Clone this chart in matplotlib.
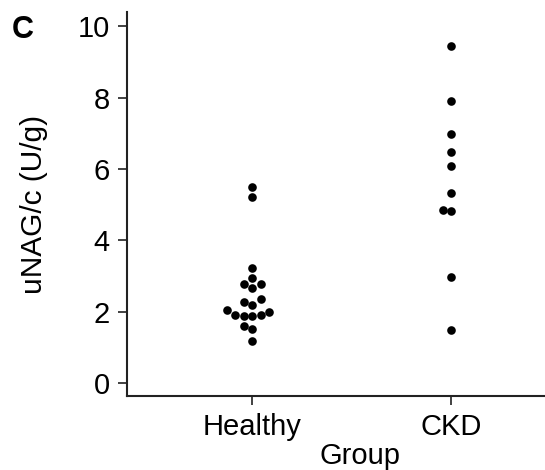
import numpy as np
import matplotlib.pyplot as plt

plt.rcParams['font.family'] = ['Liberation Sans', 'DejaVu Sans']

# values
groups = ['Healthy', 'CKD']
healthy = [5.51, 5.22, 3.24, 2.95, 2.79, 2.79, 2.67, 2.35, 2.28, 2.20,
           2.04, 2.00, 1.92, 1.92, 1.89, 1.88, 1.61, 1.53, 1.18]
ckd = [9.45, 7.90, 6.98, 6.48, 6.09, 5.32, 4.85, 4.82, 2.99, 1.48]


def swarm_offsets(ax, xpos, values, diam_px):
    # simple beeswarm: push each point sideways until it stops overlapping
    pts = ax.transData.transform([(xpos, v) for v in values])
    order = np.argsort(values)
    placed = []
    offs = np.zeros(len(values))
    for i in order:
        y = pts[i, 1]
        best = None
        for k in range(0, 40):
            for sgn in ([0] if k == 0 else [-1, 1]):
                dx = sgn * k * diam_px * 0.5
                ok = all((dx - px) ** 2 + (y - py) ** 2 >= diam_px ** 2 * 0.9
                         for px, py in placed)
                if ok:
                    best = dx
                    break
            if best is not None:
                break
        placed.append((best, y))
        offs[i] = best
    # pixels -> data units
    x0 = ax.transData.transform((0, 0))[0]
    x1 = ax.transData.transform((1, 0))[0]
    return np.array(offs) / (x1 - x0)


fig = plt.figure(figsize=(5.45, 4.70), dpi=100)
ax = fig.add_axes([0.233, 0.157, 0.767, 0.817])
ax.set_xlim(-0.63, 1.47)
ax.set_ylim(-0.36, 10.39)

for i, vals in enumerate([healthy, ckd]):
    off = swarm_offsets(ax, i, vals, 8.5)
    ax.plot(i + off, vals, 'o', color='black', ms=6.2, mec='none')

ax.set_xticks([0, 1])
ax.set_xticklabels(groups)
ax.set_yticks([0, 2, 4, 6, 8, 10])
ax.tick_params(labelsize=21, length=6.5, width=1.3, color='#333333')
ax.tick_params(axis='y', pad=6)
ax.tick_params(axis='x', pad=5.5)
for s in ['top', 'right']:
    ax.spines[s].set_visible(False)
for s in ['left', 'bottom']:
    ax.spines[s].set_linewidth(1.5)
    ax.spines[s].set_color('#222222')

ax.set_ylabel('uNAG/c (U/g)', fontsize=21.5)
ax.yaxis.set_label_coords(-0.188, 0.5)
ax.set_xlabel('Group', fontsize=21)
ax.xaxis.set_label_coords(0.557, -0.12)

fig.text(0.022, 0.968, 'C', fontsize=22, fontweight='bold', va='top')

fig.savefig('out.png', dpi=100)
